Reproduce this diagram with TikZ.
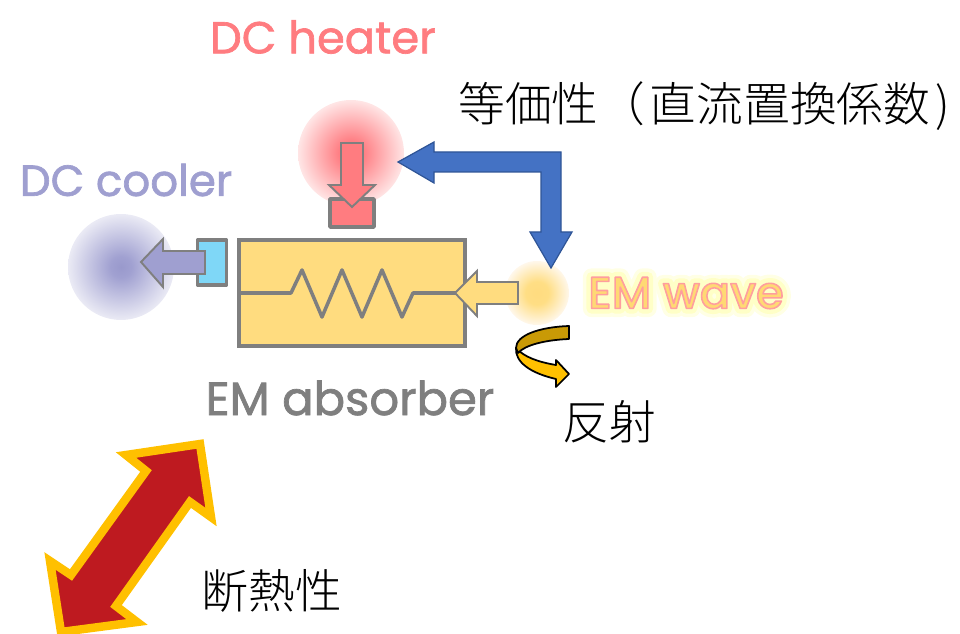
\documentclass[tikz,border=0pt]{standalone}
\usepackage{fontspec}
\setmainfont{Noto Sans CJK JP}[UprightFont={* Light}]
\newfontfamily\handfont{Poppins}[RawFeature={embolden=1.5}]
\newfontfamily\wavefont{Poppins}[UprightFont={* Medium}]
\definecolor{heatred}{HTML}{FF7C80}
\definecolor{coolblue}{HTML}{9F9FD0}
\definecolor{sky}{HTML}{7FD7F7}
\definecolor{absorbfill}{HTML}{FFDC7F}
\definecolor{linegray}{HTML}{7F7F7F}
\definecolor{linkblue}{HTML}{4472C4}
\definecolor{linkedge}{HTML}{2F5597}
\definecolor{gold}{HTML}{FFC000}
\definecolor{darkgold}{HTML}{C99A06}
\definecolor{darkred}{HTML}{BE1A20}
\pgfdeclareradialshading{heatglow}{\pgfpointorigin}{rgb(0bp)=(1,.45,.47); rgb(6bp)=(1,.5,.52); rgb(25bp)=(1,.9,.9); rgb(50bp)=(1,.9,.9)}
\pgfdeclareradialshading{coolglow}{\pgfpointorigin}{rgb(0bp)=(.6,.6,.8); rgb(5bp)=(.63,.63,.82); rgb(25bp)=(.92,.92,.96); rgb(50bp)=(.92,.92,.96)}
\pgfdeclareradialshading{waveglow}{\pgfpointorigin}{rgb(0bp)=(1,.86,.5); rgb(9bp)=(1,.87,.52); rgb(25bp)=(1,.97,.92); rgb(50bp)=(1,.97,.92)}
\newcommand{\wavetext}[1]{%
  \rlap{\special{pdf:code 1 j 1 J 2 Tr 10 w 1 1 .9 RG 1 1 .9 rg}#1}%
  \rlap{\special{pdf:code 1 j 1 J 2 Tr 6 w 1 1 .78 RG 1 1 .78 rg}#1}%
  \special{pdf:code 1 j 1 J 2 Tr .9 w 1 .62 .62 RG 1 .85 .45 rg}#1%
  \special{pdf:code 0 Tr 1 w 0 j 0 J 0 G 0 g}}
\begin{document}
\begin{tikzpicture}[
  x=0.02cm, y=-0.02cm,
  every node/.style = {inner sep=0pt},
  glow/.style  = {circle, minimum size=2.12cm},
  box/.style   = {draw=linegray, line width=2pt, line join=round},
  flow/.style  = {draw=linegray, line width=1.1pt, line join=miter},
  wire/.style  = {draw=linegray, line width=2pt, line join=round},
  hand/.style  = {font=\handfont\fontsize{#1}{#1}\selectfont},
  jp/.style    = {font=\fontsize{26.6}{26.6}\selectfont},
  curl/.style  = {draw=black, line width=1pt, line join=round},
]
\useasboundingbox (0,0) rectangle (960,634);

% --- heater -------------------------------------------
\node[glow, shading=heatglow] (heatspot) at (351,153) {};
\node[box, fill=heatred, minimum width=0.88cm, minimum height=0.56cm] (heatbox) at (352,213) {};
\draw[flow, fill=heatred] (341,143) -- (363,143) -- (363,185) -- (375,185) -- (352,207)
  -- (329,185) -- (341,185) -- cycle;
\node[hand=25.5, text=heatred] (heatlbl) at (323,37) {DC heater};

% --- cooler -------------------------------------------
\node[glow, shading=coolglow] (coolspot) at (121,267) {};
\node[box, fill=sky, minimum width=0.58cm, minimum height=0.9cm] (coolbox) at (212,262.5) {};
\draw[flow, fill=coolblue] (141,262) -- (163,239) -- (163,251) -- (205,251) -- (205,274)
  -- (163,274) -- (163,287) -- cycle;
\node[hand=24.8, text=coolblue] (coollbl) at (126,180) {DC cooler};

% --- absorber -----------------------------------------
\node[box, line join=miter, fill=absorbfill, minimum width=4.52cm, minimum height=2.12cm] (absorber) at (352,293) {};
\draw[wire] (absorber.west) -- (291,293) -- (302,270) -- (322,317) -- (342,270) -- (362,317)
  -- (382,270) -- (402,317) -- (413,293) -- (absorber.east);
\node[hand=26.5, text=linegray] (absorblbl) at (350,398) {EM absorber};

% --- wave ---------------------------------------------
\node[glow, minimum size=1.28cm, shading=waveglow] (wavespot) at (537,293) {};
\draw[flow, fill=absorbfill] (455,293) -- (477,271) -- (477,282) -- (518,282) -- (518,304)
  -- (477,304) -- (477,316) -- cycle;
\node[font=\wavefont\fontsize{25.5}{25.5}\selectfont] (wavelbl) at (686,293) {\wavetext{EM wave}};

% --- reflection ---------------------------------------
\draw[curl, fill=gold] (516,348) .. controls (515,362) and (530,373) .. (556,379)
  -- (556,387) -- (569,374) -- (556,360) -- (556,365)
  .. controls (538,362) and (524,357) .. (516,348) -- cycle;
\draw[curl, fill=darkgold] (569,326) .. controls (540,327) and (516,335) .. (516,348) -- (518,353)
  .. controls (525,345) and (545,340) .. (569,339) -- cycle;
\node[jp] (reflbl) at (609,422) {反射};

% --- equivalence --------------------------------------
\draw[draw=linkedge, line width=0.7pt, fill=linkblue] (398,162) -- (434,142) -- (434,152)
  -- (561,152) -- (561,232) -- (572,232) -- (551,268) -- (530,232) -- (541,232) -- (541,172)
  -- (434,172) -- (434,183) -- cycle;
\node[jp, anchor=west] (equivlbl) at (458,106) {等価性（\hspace{.1em}直流置換係数\hspace{.12em})};

% --- insulation ---------------------------------------
\draw[draw=gold, line width=4.8pt, fill=darkred, miter limit=10] (200,444) -- (211,517) -- (190,502)
  -- (116,606) -- (137,622) -- (61,632) -- (50,561) -- (71,575) -- (146,471) -- (126,455) -- cycle;
\node[jp] (isollbl) at (272,591) {断熱性};
\end{tikzpicture}
\end{document}
